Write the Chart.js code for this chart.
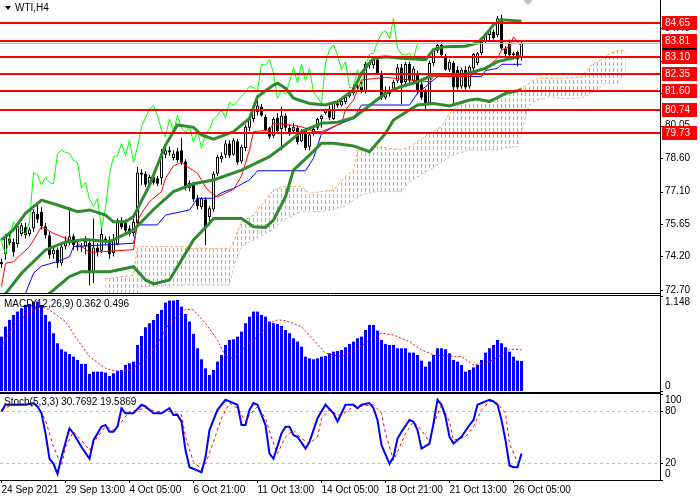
<!DOCTYPE html>
<html>
<head>
<meta charset="utf-8">
<script src="https://cdn.jsdelivr.net/npm/chart.js@4.4.1/dist/chart.umd.min.js"></script>
<style>
  body { margin: 0; background: #fff; width: 700px; height: 500px; overflow: hidden; position: relative; }
  canvas { position: absolute; left: 0; }
  .lbl { position: absolute; font: 10px "Liberation Sans", Arial, sans-serif; color: #000; white-space: nowrap; line-height: 12px; z-index: 5; }
  #tri { position: absolute; left: 5px; top: 6px; width: 0; height: 0; border-left: 3px solid transparent; border-right: 3px solid transparent; border-top: 4px solid #000; z-index: 5; }
  #shift { position: absolute; left: 523px; top: 0; width: 0; height: 0; border-left: 5px solid transparent; border-right: 5px solid transparent; border-top: 5px solid #c0c0c0; z-index: 5; }
</style>
</head>
<body>
<canvas id="main" width="700" height="294" style="top:0"></canvas>
<canvas id="macd" width="700" height="99" style="top:294px"></canvas>
<canvas id="stoch" width="700" height="108" style="top:392px"></canvas>
<div id="tri"></div>
<div class="lbl" style="left:15px; top:2px">WTI,H4</div>
<div id="shift"></div>
<div class="lbl" style="left:4px; top:298px">MACD(12,26,9) 0.362 0.496</div>
<div class="lbl" style="left:4px; top:396px">Stoch(5,3,3) 30.7692 19.5869</div>

<script>
// H4 candles, one entry per bar (bar 0 = 24 Sep 2021)
const opens  = [73.95,74.30,75.00,74.85,74.75,75.20,75.50,75.20,75.45,76.10,76.20,75.55,75.15,74.30,74.50,73.90,74.65,74.90,75.10,74.70,
                74.60,74.65,74.80,73.50,74.60,74.45,75.00,74.95,74.35,74.75,75.75,75.70,75.45,75.25,75.70,77.95,77.90,77.45,77.75,77.70,
                77.70,78.75,78.95,78.60,78.90,78.95,78.45,77.25,77.40,76.80,76.40,76.75,75.95,76.30,77.90,78.55,78.75,79.25,78.75,79.35,
                78.45,79.05,79.95,80.35,80.65,80.90,80.45,79.95,79.60,80.40,79.90,80.50,79.95,79.80,79.95,79.35,79.85,79.10,79.70,79.95,
                80.35,80.60,80.80,80.35,81.05,80.95,81.10,81.35,81.50,81.80,81.80,81.60,82.80,82.75,83.00,82.40,81.30,81.65,81.70,82.05,
                82.65,82.00,82.80,82.05,82.40,81.90,81.55,81.05,82.85,83.40,83.65,83.15,82.55,82.85,82.55,81.80,82.55,81.80,82.60,82.85,
                83.28,83.80,84.10,84.25,84.10,84.85,83.50,83.73,83.20,83.35,83.06];
const highs  = [74.10,75.20,75.30,75.00,75.70,75.70,75.70,75.50,76.30,76.60,76.40,75.70,75.30,74.60,74.60,74.80,75.10,76.40,75.20,74.85,
                74.80,75.10,75.00,75.90,74.80,75.50,75.10,75.10,75.20,75.90,75.95,75.85,75.60,75.90,78.20,78.10,78.00,77.85,77.90,77.80,
                79.00,79.25,79.10,78.95,79.05,79.50,78.55,77.60,77.50,76.95,76.85,76.85,76.45,78.00,78.75,78.85,79.40,79.40,79.50,79.45,
                79.20,80.10,80.45,80.90,81.15,81.00,80.55,80.00,80.45,80.60,80.90,80.60,80.10,80.15,80.05,79.90,79.95,79.70,80.00,80.40,
                80.55,80.80,80.95,81.15,81.10,81.20,81.40,81.60,81.90,81.95,82.00,82.90,82.95,83.10,83.12,82.50,81.80,81.80,82.10,82.80,
                82.80,82.90,82.90,82.70,82.50,82.00,81.70,82.95,83.50,83.75,83.75,83.25,83.00,82.95,82.70,82.65,82.70,82.75,83.30,83.35,
                83.85,84.20,84.35,84.35,84.95,85.00,83.60,83.90,83.35,83.40,83.80];
const lows   = [73.70,74.05,74.70,74.20,74.60,75.10,75.00,75.10,75.30,75.70,75.40,75.00,74.10,74.10,73.70,73.80,74.50,74.70,74.50,74.45,
                74.40,74.30,72.90,73.00,74.20,74.35,74.70,74.10,74.20,74.70,75.40,75.20,75.10,75.10,75.50,77.40,77.30,77.30,77.40,77.35,
                77.40,78.60,78.70,78.50,78.40,78.30,77.15,77.10,76.65,76.30,76.30,74.70,75.60,76.20,77.80,78.40,78.60,78.60,78.70,78.30,
                78.35,78.90,79.80,80.20,80.50,80.45,79.80,79.45,79.50,79.70,78.95,79.80,79.60,79.70,79.20,79.30,78.95,78.95,79.60,79.85,
                79.95,80.55,80.30,80.30,80.85,80.90,81.00,81.30,81.40,81.60,81.50,81.50,82.60,82.60,82.35,81.20,81.20,81.35,81.60,81.95,
                81.00,81.90,81.95,81.90,81.45,81.20,80.75,81.00,82.70,83.30,83.15,82.50,82.45,80.95,81.65,81.70,81.65,81.70,82.50,82.75,
                83.20,83.70,83.85,83.90,84.00,83.45,83.15,83.15,83.00,82.70,82.95];
const closes = [73.85,75.10,74.80,74.40,75.55,75.60,75.15,75.40,76.20,75.85,75.55,75.15,74.25,74.50,73.90,74.65,74.90,75.10,74.70,74.60,
                74.65,74.90,73.50,74.60,74.40,75.20,74.85,74.30,74.95,75.75,75.50,75.35,75.20,75.75,77.95,77.85,77.40,77.75,77.50,77.45,
                78.80,78.95,78.85,78.80,78.50,78.40,77.25,77.50,76.75,76.45,76.80,75.45,76.35,77.90,78.65,78.70,79.25,78.70,79.40,78.40,
                79.10,80.00,80.40,80.80,80.95,80.50,79.85,79.55,80.35,79.80,80.50,79.95,79.75,80.00,79.30,79.80,79.05,79.65,79.90,80.35,
                80.50,80.75,80.40,81.10,80.95,81.15,81.35,81.55,81.80,81.75,81.60,82.80,82.75,83.00,82.40,81.27,81.65,81.45,82.00,82.65,
                81.95,82.80,82.05,82.60,81.55,81.30,81.05,82.85,83.45,83.65,83.20,82.55,82.90,81.75,81.75,82.55,81.75,82.68,83.25,83.28,
                83.80,84.17,84.30,83.95,84.85,83.50,83.25,83.20,83.28,83.00,83.73];

// indicator lines as [bar, value]
const bbUpper = [[0,74.94],[3,75.40],[6,76.13],[10,76.72],[14,76.50],[19,76.20],[22,76.28],[26,76.05],[28,75.75],[31,75.75],[33,75.98],
                 [37,77.39],[41,79.18],[44,80.08],[48,79.97],[50,79.63],[53,79.44],[58,79.78],[62,80.37],[64,81.34],[68,81.86],[69,81.94],
                 [71,81.72],[73,81.27],[77,81.04],[81,80.97],[84,81.12],[88,81.64],[90,82.40],[93,83.06],[96,83.13],[100,83.06],[106,83.00],
                 [108,83.45],[111,83.58],[116,83.60],[119,83.75],[121,84.10],[123,84.55],[125,84.78],[130,84.72]];
const bbMiddle = [[0,72.30],[5,73.45],[11,74.49],[16,74.85],[21,74.96],[27,74.86],[33,75.38],[38,76.30],[43,77.10],[48,77.45],[53,77.62],
                  [60,78.06],[67,78.66],[71,79.20],[75,79.78],[80,80.15],[84,80.20],[88,80.40],[92,80.95],[96,81.49],[100,81.80],[104,82.01],
                  [108,82.31],[116,82.36],[121,82.61],[124,82.91],[130,83.16]];
const bbLower = [[6,71.90],[12,72.55],[17,73.30],[20,73.52],[27,73.52],[33,73.74],[36,73.15],[38,72.97],[42,73.15],[45,74.04],[48,74.94],
                 [52,75.68],[53,75.90],[60,75.90],[63,75.53],[66,75.50],[68,75.83],[71,76.87],[73,78.06],[77,78.73],[80,79.26],[83,79.26],
                 [88,79.14],[92,78.88],[96,79.70],[98,80.30],[102,80.75],[104,80.97],[108,81.04],[112,80.93],[117,81.19],[119,81.24],
                 [122,81.12],[126,81.49],[130,81.64]];
const tenkan = [[0,72.85],[1,73.89],[3,73.97],[7,74.64],[10,75.53],[13,75.23],[17,74.94],[19,74.79],[22,74.38],[33,74.50],[34,75.80],
                [35,76.13],[37,76.65],[40,77.10],[41,77.70],[43,78.25],[45,78.40],[47,78.15],[49,77.92],[51,77.30],[52,77.10],[54,76.85],
                [55,76.95],[58,77.20],[60,77.80],[62,78.96],[63,79.78],[67,79.85],[68,80.15],[72,80.08],[75,80.00],[78,79.78],[80,79.78],
                [83,80.00],[85,80.15],[86,80.75],[88,81.19],[90,82.09],[96,82.21],[102,82.09],[107,82.01],[108,82.24],[117,82.24],
                [119,82.46],[122,82.76],[124,83.06],[125,83.43],[127,83.58],[128,84.02],[129,83.80],[130,83.58]];
const kijun = [[3,71.80],[6,72.55],[8,73.45],[10,73.77],[14,73.97],[17,74.19],[18,74.64],[33,74.79],[34,75.61],[39,75.61],[41,76.05],
               [47,76.28],[49,76.80],[53,76.80],[55,77.05],[58,77.24],[62,77.62],[64,78.03],[76,78.03],[78,78.59],[80,79.70],[84,80.08],
               [88,80.37],[90,80.97],[102,80.97],[104,81.50],[106,81.79],[109,82.24],[120,82.24],[121,82.51],[124,82.61],[125,82.79],
               [130,82.79]];
const chikouShift = 26;

// Ichimoku cloud, already shifted 26 bars forward
const cloudBars = [26,30,33,34,35,46,47,57,58,60,63,66,68,70,75,77,80,83,86,88,89,91,94,100,102,104,107,110,112,114,117,120,124,
                   126,129,130,131,132,134,137,140,145,147,148,150,151,153,154,155,156];
const spanA = [73.20,73.30,73.35,74.64,74.64,74.64,74.56,74.56,74.86,75.75,76.05,76.72,77.17,77.32,77.32,77.02,77.10,77.17,77.77,78.06,
               78.96,78.88,79.11,78.96,79.11,79.33,79.70,80.00,80.60,80.90,81.19,81.22,81.22,81.49,81.67,81.75,81.82,81.95,82.16,82.16,
               82.16,82.21,82.68,82.80,83.01,83.15,83.35,83.40,83.43,83.35];
const spanB = [72.30,72.30,72.30,72.30,72.85,72.92,72.92,72.92,73.74,74.64,74.94,75.23,75.40,75.80,76.20,76.20,76.20,76.30,76.45,76.72,
               76.85,77.00,77.10,77.10,77.54,77.75,78.06,78.40,78.66,78.80,78.96,78.96,78.96,79.05,79.11,79.70,80.45,80.97,81.19,81.34,
               81.27,81.27,81.45,81.57,81.80,81.94,81.94,81.94,82.20,82.46];

// MACD(12,26,9)
const macdHist = [0.657,0.778,0.859,0.919,0.960,1.000,1.040,1.052,1.081,1.081,1.040,0.919,0.839,0.698,0.577,0.504,0.476,0.448,0.415,0.375,
                  0.327,0.327,0.206,0.234,0.234,0.234,0.222,0.181,0.214,0.246,0.254,0.315,0.335,0.355,0.556,0.665,0.770,0.819,0.859,0.931,
                  0.980,1.069,1.093,1.093,1.101,1.020,0.931,0.839,0.690,0.516,0.383,0.274,0.194,0.254,0.355,0.435,0.556,0.617,0.625,0.657,
                  0.718,0.819,0.899,0.960,0.960,0.919,0.899,0.839,0.819,0.810,0.786,0.738,0.698,0.637,0.597,0.536,0.415,0.395,0.383,0.395,
                  0.415,0.423,0.456,0.476,0.484,0.496,0.528,0.569,0.597,0.637,0.657,0.738,0.798,0.798,0.730,0.617,0.569,0.556,0.556,0.516,
                  0.516,0.516,0.464,0.464,0.435,0.367,0.294,0.355,0.435,0.516,0.516,0.504,0.456,0.375,0.355,0.315,0.234,0.254,0.286,0.315,
                  0.375,0.464,0.516,0.556,0.617,0.577,0.528,0.476,0.415,0.367,0.362];
const macdSignal = [[0,0.536],[3,0.778],[7,0.960],[10,1.020],[12,0.980],[16,0.839],[19,0.617],[22,0.415],[26,0.274],[29,0.234],[32,0.254],
                    [36,0.375],[39,0.577],[42,0.819],[46,0.988],[48,0.980],[51,0.819],[54,0.617],[56,0.415],[58,0.395],[61,0.536],[65,0.698],
                    [67,0.819],[69,0.859],[71,0.851],[75,0.778],[78,0.617],[81,0.456],[85,0.415],[88,0.476],[92,0.617],[95,0.698],[98,0.677],
                    [102,0.597],[105,0.496],[108,0.435],[112,0.423],[115,0.415],[118,0.315],[122,0.355],[125,0.435],[127,0.504],[129,0.504],
                    [130,0.496]];

// Stochastic(5,3,3)
const stochMain = [[0,79.6],[1,87.5],[3,87.5],[6,87.5],[8,89.4],[9,85.5],[10,77.6],[11,54.1],[12,24.7],[13,18.8],[14,7.1],[15,26.7],
                   [17,60.0],[18,54.1],[20,38.4],[22,24.7],[23,46.3],[25,62.0],[26,63.9],[27,56.1],[28,56.1],[29,62.0],[30,83.5],[31,77.6],
                   [33,77.6],[35,87.5],[36,85.5],[38,77.6],[40,77.6],[42,83.5],[43,75.7],[44,75.7],[45,67.8],[46,34.5],[47,14.9],[49,11.0],
                   [50,9.0],[51,26.7],[52,58.0],[54,81.6],[56,93.3],[57,91.4],[59,87.5],[60,63.9],[61,63.9],[62,81.6],[63,89.4],[64,87.5],
                   [66,63.9],[67,30.6],[68,24.7],[70,54.1],[71,62.0],[72,62.0],[73,52.2],[74,50.2],[76,36.5],[77,44.3],[78,58.0],[79,71.8],
                   [81,87.5],[83,77.6],[84,67.8],[85,77.6],[86,87.5],[88,87.5],[89,83.5],[90,87.5],[92,89.4],[93,83.5],[94,69.8],[95,40.4],
                   [97,18.8],[98,26.7],[99,48.2],[100,56.1],[102,69.8],[103,67.8],[104,58.0],[105,36.5],[107,42.4],[108,65.9],[109,93.3],
                   [110,87.5],[111,73.7],[112,50.2],[113,42.4],[115,50.2],[117,63.9],[118,69.8],[119,87.5],[121,91.4],[122,93.3],[123,91.4],
                   [124,87.5],[125,69.8],[126,46.3],[127,16.9],[128,14.9],[129,14.9],[130,30.77]];
const stochSignal = [[0,81.6],[3,87.5],[7,87.5],[9,85.5],[11,69.8],[13,38.4],[15,16.9],[16,38.4],[18,56.1],[20,46.3],[22,34.5],[24,50.2],
                     [26,62.0],[28,58.0],[30,67.8],[32,79.6],[36,83.5],[39,79.6],[42,79.6],[45,75.7],[46,50.2],[48,20.8],[50,12.9],[51,18.8],
                     [53,44.3],[55,71.8],[57,89.4],[59,83.5],[61,67.8],[62,75.7],[64,85.5],[66,71.8],[68,42.4],[69,30.6],[71,50.2],[73,58.0],
                     [75,48.2],[77,42.4],[79,50.2],[80,71.8],[82,81.6],[84,75.7],[85,75.7],[88,85.5],[90,85.5],[93,87.5],[95,77.6],[96,54.1],
                     [98,22.7],[99,32.5],[101,54.1],[103,67.8],[105,58.0],[107,44.3],[108,63.9],[110,87.5],[112,67.8],[113,46.3],[116,50.2],
                     [118,62.0],[120,81.6],[122,91.4],[124,89.4],[126,77.6],[127,42.4],[129,20.8],[130,19.59]];
const stochLevels = [20, 80];

// axes
const timeTickBars = [0, 16, 32, 48, 64, 80, 96, 112, 128];
const timeLabels = ['24 Sep 2021', '29 Sep 13:00', '4 Oct 05:00', '6 Oct 21:00', '11 Oct 13:00',
                    '14 Oct 05:00', '18 Oct 21:00', '21 Oct 13:00', '26 Oct 05:00'];
const priceTicks = [72.70, 74.20, 75.65, 77.10, 78.60, 80.05, 81.50, 82.95, 84.40];
const levels = [84.65, 83.81, 83.10, 82.35, 81.60, 80.74, 79.73];
const macdTicks = [0, 1.148];
const stochTicks = [0, 20, 80, 100];

const X_MIN = -0.375, X_MAX = 164.625;
const FONT = '"Liberation Sans", Arial, sans-serif';
const CLOUD = '#F4A460';
const bidPrice = closes[closes.length - 1];

const pts = arr => arr.map(p => ({ x: p[0], y: p[1] }));

function xAxis(show) {
    const ax = { type: 'linear', min: X_MIN, max: X_MAX, offset: false, display: show };
    if (show) {
        ax.grid = { drawOnChartArea: false, drawTicks: true, tickLength: 3, color: '#000' };
        ax.border = { display: true, color: '#000' };
        ax.ticks = {
            autoSkip: false, maxRotation: 0, align: 'start', padding: 1, color: '#000',
            font: { family: FONT, size: 10 },
            callback: v => { const k = timeTickBars.indexOf(v); return k < 0 ? '' : timeLabels[k]; }
        };
        ax.afterBuildTicks = s => { s.ticks = timeTickBars.map(v => ({ value: v })); };
        ax.afterFit = s => { s.height = 20; };
    }
    return ax;
}

function yAxis(min, max) {
    return {
        type: 'linear', position: 'right', min: min, max: max,
        ticks: { display: false }, grid: { display: false }, border: { display: false },
        afterFit: s => { s.width = 40; }
    };
}

// pane border + right-hand scale labels
const frame = {
    id: 'frame',
    afterDraw(chart, args, opts) {
        const { ctx, chartArea: a } = chart;
        const y = chart.scales.y;
        ctx.save();
        ctx.strokeStyle = '#000';
        ctx.lineWidth = 1;
        ctx.beginPath();
        if (opts.top) { ctx.moveTo(0, a.top - 0.5); ctx.lineTo(a.right + 1, a.top - 0.5); }
        ctx.moveTo(a.right + 0.5, a.top - 2); ctx.lineTo(a.right + 0.5, a.bottom + 1);
        ctx.moveTo(0, a.bottom + 0.5); ctx.lineTo(a.right + 1, a.bottom + 0.5);
        opts.ticks.forEach(v => {
            const py = Math.round(y.getPixelForValue(v)) + 0.5;
            ctx.moveTo(a.right, py); ctx.lineTo(a.right + 3, py);
        });
        ctx.stroke();
        ctx.fillStyle = '#000';
        ctx.font = '10px ' + FONT;
        ctx.textBaseline = 'middle';
        ctx.textAlign = 'left';
        opts.ticks.forEach((v, i) => {
            let py = y.getPixelForValue(v);
            py = Math.min(Math.max(py, a.top + opts.inset), a.bottom - opts.inset);
            ctx.fillText(opts.labels[i], a.right + 5, py);
        });
        ctx.restore();
    }
};

// dotted hatching of the Ichimoku cloud, clipped to the area between the two span datasets
const cloudHatch = {
    id: 'cloudHatch',
    beforeDatasetsDraw(chart, args, opts) {
        const { ctx, chartArea: a } = chart;
        const top = chart.getDatasetMeta(opts.upper).data;
        const bot = chart.getDatasetMeta(opts.lower).data;
        ctx.save();
        ctx.beginPath();
        ctx.rect(a.left, a.top, a.right - a.left, a.bottom - a.top);
        ctx.clip();
        ctx.beginPath();
        top.forEach((p, i) => i ? ctx.lineTo(p.x, p.y) : ctx.moveTo(p.x, p.y));
        for (let i = bot.length - 1; i >= 0; i--) ctx.lineTo(bot[i].x, bot[i].y);
        ctx.closePath();
        ctx.clip();
        ctx.fillStyle = CLOUD;
        const x0 = Math.round(a.left) + 1;
        for (let x = x0; x < a.right; x += 4) {
            for (let y = Math.round(a.top); y < a.bottom; y += 6) ctx.fillRect(x, y, 1, 4);
        }
        ctx.restore();
    }
};

// support / resistance lines and the bid line of the price pane
const levelMarks = {
    id: 'levelMarks',
    afterDatasetsDraw(chart) {
        const { ctx, chartArea: a } = chart;
        const y = chart.scales.y;
        ctx.save();
        const by = Math.round(y.getPixelForValue(bidPrice)) + 0.5;
        ctx.strokeStyle = '#C0C0C0';
        ctx.lineWidth = 1;
        ctx.beginPath(); ctx.moveTo(a.left, by); ctx.lineTo(a.right, by); ctx.stroke();
        ctx.strokeStyle = '#FF0000';
        ctx.lineWidth = 2;
        levels.forEach(v => {
            const py = Math.round(y.getPixelForValue(v));
            ctx.beginPath(); ctx.moveTo(a.left, py); ctx.lineTo(a.right, py); ctx.stroke();
        });
        ctx.restore();
    },
    afterDraw(chart) {
        const { ctx, chartArea: a } = chart;
        const y = chart.scales.y;
        ctx.save();
        ctx.font = '10px ' + FONT;
        ctx.textBaseline = 'middle';
        ctx.textAlign = 'left';
        const tag = (v, col) => {
            const py = Math.round(y.getPixelForValue(v));
            ctx.fillStyle = col;
            ctx.fillRect(a.right + 2, py - 7, 35, 14);
            ctx.fillStyle = '#fff';
            ctx.fillText(v.toFixed(2), a.right + 5, py);
        };
        tag(bidPrice, '#000');
        levels.forEach(v => tag(v, '#FF0000'));
        ctx.restore();
    }
};

const stochGrid = {
    id: 'stochGrid',
    beforeDatasetsDraw(chart) {
        const { ctx, chartArea: a } = chart;
        const y = chart.scales.y;
        ctx.save();
        ctx.strokeStyle = '#C0C0C0';
        ctx.lineWidth = 1;
        ctx.setLineDash([3, 3]);
        stochLevels.forEach(v => {
            const py = Math.round(y.getPixelForValue(v)) + 0.5;
            ctx.beginPath(); ctx.moveTo(a.left, py); ctx.lineTo(a.right, py); ctx.stroke();
        });
        ctx.restore();
    }
};

const base = {
    responsive: false,
    animation: false,
    events: [],
    plugins: { legend: { display: false }, tooltip: { enabled: false } }
};

function lineSet(data, color, width, dash) {
    return { type: 'line', data: data, borderColor: color, borderWidth: width, borderDash: dash || [],
             pointRadius: 0, fill: false, tension: 0 };
}

// ---- price pane
const candleBody = opens.map((o, i) => ({ x: i, y: [o, closes[i]] }));
const candleWick = opens.map((o, i) => ({ x: i, y: [lows[i], highs[i]] }));
const chikou = closes.map((c, i) => ({ x: i - chikouShift, y: c }));
const cloudTop = cloudBars.map((b, i) => ({ x: b, y: spanA[i] }));
const cloudBottom = cloudBars.map((b, i) => ({ x: b, y: spanB[i] }));

new Chart(document.getElementById('main'), {
    type: 'line',
    data: {
        datasets: [
            lineSet(pts(bbUpper), '#2E8B2E', 3),
            lineSet(pts(bbMiddle), '#2E8B2E', 3),
            lineSet(pts(bbLower), '#2E8B2E', 3),
            lineSet(pts(tenkan), '#FF0000', 1),
            lineSet(pts(kijun), '#0000FF', 1),
            lineSet(chikou, '#00FF00', 1),
            {
                type: 'bar', data: candleBody, grouped: false, barThickness: 3, inflateAmount: 0,
                borderSkipped: false, borderWidth: 1, borderColor: '#000',
                backgroundColor: c => closes[c.dataIndex] >= opens[c.dataIndex] ? '#fff' : '#000'
            },
            { type: 'bar', data: candleWick, grouped: false, barThickness: 1, inflateAmount: 0, backgroundColor: '#000' },
            lineSet(cloudTop, CLOUD, 1, [3, 2]),
            lineSet(cloudBottom, '#D8BFD8', 1, [3, 2])
        ]
    },
    options: Object.assign({}, base, {
        layout: { padding: { top: 2, bottom: 1, left: 0, right: 0 } },
        scales: { x: xAxis(false), y: yAxis(72.566, 85.575) },
        plugins: Object.assign({}, base.plugins, {
            frame: { ticks: priceTicks, labels: priceTicks.map(v => v.toFixed(2)), inset: 0, top: false },
            cloudHatch: { upper: 8, lower: 9 }
        })
    }),
    plugins: [cloudHatch, frame, levelMarks]
});

// ---- MACD pane
new Chart(document.getElementById('macd'), {
    type: 'line',
    data: {
        datasets: [
            lineSet(pts(macdSignal), '#FF0000', 1, [2, 2]),
            { type: 'bar', data: macdHist.map((v, i) => ({ x: i, y: v })), grouped: false,
              barThickness: 3, inflateAmount: 0, backgroundColor: '#0000FF' }
        ]
    },
    options: Object.assign({}, base, {
        layout: { padding: { top: 2, bottom: 1, left: 0, right: 0 } },
        scales: { x: xAxis(false), y: yAxis(-0.012, 1.148) },
        plugins: Object.assign({}, base.plugins, {
            frame: { ticks: macdTicks, labels: ['0', '1.148'], inset: 6, top: true }
        })
    }),
    plugins: [frame]
});

// ---- Stochastic pane
new Chart(document.getElementById('stoch'), {
    type: 'line',
    data: {
        datasets: [
            lineSet(pts(stochMain), '#0000FF', 2),
            lineSet(pts(stochSignal), '#FF0000', 1, [3, 3])
        ]
    },
    options: Object.assign({}, base, {
        layout: { padding: { top: 2, bottom: 0, left: 0, right: 0 } },
        scales: { x: xAxis(true), y: yAxis(0, 100) },
        plugins: Object.assign({}, base.plugins, {
            frame: { ticks: stochTicks, labels: ['0', '20', '80', '100'], inset: 6, top: true }
        })
    }),
    plugins: [frame, stochGrid]
});
</script>
</body>
</html>
